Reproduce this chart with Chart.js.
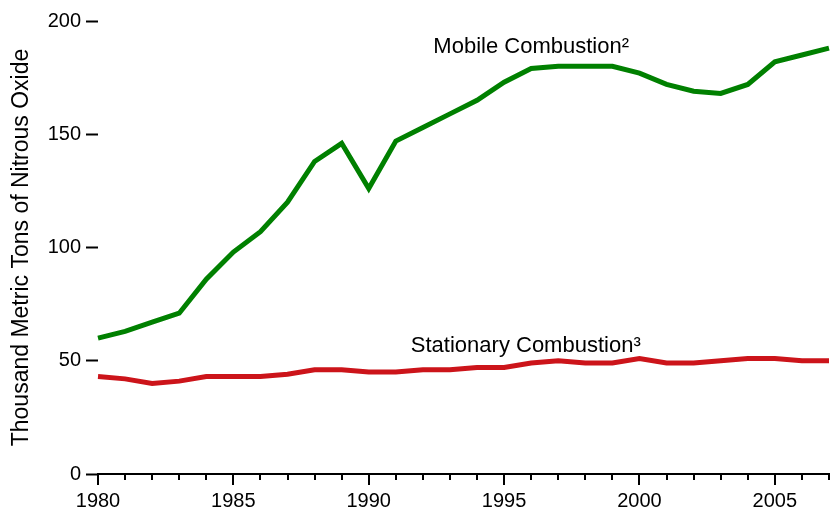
<!DOCTYPE html>
<html>
<head>
<meta charset="utf-8">
<script src="https://cdn.jsdelivr.net/npm/chart.js@4"></script>
<style>
  body { margin: 0; background: #fff; }
</style>
</head>
<body>
<canvas id="myChart" width="833" height="513"></canvas>
<script>
const years = [
    1980, 1981, 1982, 1983, 1984, 1985, 1986, 1987, 1988, 1989,
    1990, 1991, 1992, 1993, 1994, 1995, 1996, 1997, 1998, 1999,
    2000, 2001, 2002, 2003, 2004, 2005, 2006, 2007
];

const mobile = [
    60, 63, 67, 71, 86, 98, 107, 120, 138, 146,
    126, 147, 153, 159, 165, 173, 179, 180, 180, 180,
    177, 172, 169, 168, 172, 182, 185, 188
];

const stationary = [
    43, 42, 40, 41, 43, 43, 43, 44, 46, 46,
    45, 45, 46, 46, 47, 47, 49, 50, 49, 49,
    51, 49, 49, 50, 51, 51, 50, 50
];

const yTicks = [0, 50, 100, 150, 200];

const fontName = 'Arial, "Liberation Sans", sans-serif';

// x ticks below the axis, long every 5 years
const tickMarks = {
    id: 'tickMarks',
    afterDraw(chart) {
        const ctx = chart.ctx;
        const x = chart.scales.x;
        const y0 = chart.chartArea.bottom;
        ctx.save();
        ctx.strokeStyle = '#000';
        ctx.lineWidth = 2;
        years.forEach((yr, i) => {
            const px = Math.round(x.getPixelForValue(i));
            const len = yr % 5 === 0 ? 11 : 6;
            ctx.beginPath();
            ctx.moveTo(px, y0);
            ctx.lineTo(px, y0 + len);
            ctx.stroke();
        });
        ctx.restore();
    }
};

// series names written next to the lines
const lineLabels = {
    id: 'lineLabels',
    afterDatasetsDraw(chart) {
        const ctx = chart.ctx;
        const x = chart.scales.x;
        const y = chart.scales.y;
        ctx.save();
        ctx.fillStyle = '#000';
        ctx.font = '22px ' + fontName;
        ctx.textAlign = 'center';
        ctx.textBaseline = 'middle';
        ctx.fillText('Mobile Combustion²', x.getPixelForValue(16), y.getPixelForValue(188.5));
        ctx.fillText('Stationary Combustion³', x.getPixelForValue(15.8), y.getPixelForValue(56.5));
        ctx.restore();
    }
};

const ctx = document.getElementById('myChart').getContext('2d');
const myChart = new Chart(ctx, {
    type: 'line',
    data: {
        labels: years,
        datasets: [{
            label: 'Mobile Combustion²',
            data: mobile,
            borderColor: 'rgb(0, 128, 0)',
            borderWidth: 5,
            pointRadius: 0,
            tension: 0,
            fill: false
        }, {
            label: 'Stationary Combustion³',
            data: stationary,
            borderColor: 'rgb(204, 20, 26)',
            borderWidth: 5,
            pointRadius: 0,
            tension: 0,
            fill: false
        }]
    },
    options: {
        responsive: false,
        animation: false,
        layout: { padding: { top: 21, right: 0, left: 0, bottom: 0 } },
        plugins: {
            legend: { display: false },
            tooltip: { enabled: false }
        },
        scales: {
            x: {
                offset: false,
                border: { display: true, color: '#000', width: 2 },
                grid: { drawOnChartArea: false, drawTicks: true, tickLength: 11, tickColor: 'rgba(0,0,0,0)' },
                ticks: {
                    autoSkip: false,
                    maxRotation: 0,
                    padding: 4,
                    color: '#000',
                    font: { family: fontName, size: 20 },
                    callback: function(val, i) {
                        return years[i] % 5 === 0 ? String(years[i]) : '';
                    }
                },
                afterFit: function(scale) { scale.height = 39; }
            },
            y: {
                min: 0,
                max: 200,
                border: { display: false },
                grid: { drawOnChartArea: false, drawTicks: true, tickLength: 12, tickColor: '#000', tickWidth: 2 },
                afterBuildTicks: function(scale) {
                    scale.ticks = yTicks.map(v => ({ value: v }));
                },
                ticks: {
                    padding: 5,
                    color: '#000',
                    font: { family: fontName, size: 20 }
                },
                title: {
                    display: true,
                    text: 'Thousand Metric Tons of Nitrous Oxide',
                    color: '#000',
                    font: { family: fontName, size: 23 },
                    padding: { top: 8, bottom: 0 }
                },
                afterFit: function(scale) { scale.width = 98; }
            }
        }
    },
    plugins: [tickMarks, lineLabels]
});
</script>
</body>
</html>
